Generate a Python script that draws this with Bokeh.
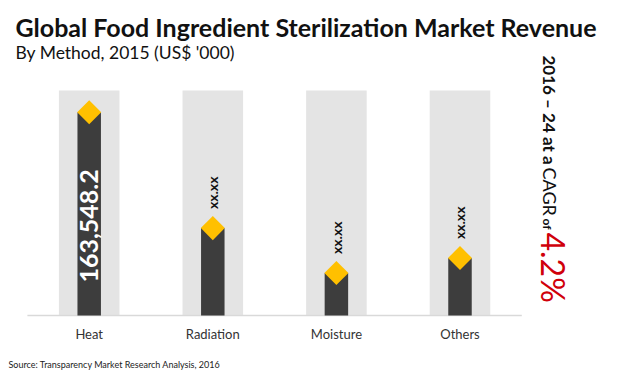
import math
from bokeh.plotting import figure
from bokeh.models import ColumnDataSource, Range1d, Label, LabelSet
from bokeh.core.properties import value
from bokeh.embed import file_html
from bokeh.resources import INLINE

# ---- data ----
categories = ["Heat", "Radiation", "Moisture", "Others"]
revenue = [163548.2, 70300, 34200, 46200]
value_labels = ["163,548.2", "xx.xx", "xx.xx", "xx.xx"]
axis_max = 181000
background = [axis_max] * len(categories)

title_text = "Global Food Ingredient Sterilization Market Revenue"
subtitle_text = "By Method, 2015 (US$ '000)"
source_text = "Source: Transparency Market Research Analysis, 2016"
cagr_parts = ["2016 \u2013 24 at a", "CAGR", "of", "4.2%"]

# ---- layout (pixels) ----
FONT = "Lato"
W, H = 620, 375
SLOT_PX = 123.6          # width of one category slot
FIRST_CENTER_PX = 88.7   # centre of first slot
BASE_PX = 315            # y of baseline
TOP_PX = 90              # y where axis_max lands

x_start = -FIRST_CENTER_PX / SLOT_PX
x_end = x_start + W / SLOT_PX
k = (BASE_PX - TOP_PX) / axis_max
y_start = -(H - BASE_PX) / k
y_end = axis_max + TOP_PX / k

p = figure(width=W, height=H, x_range=Range1d(x_start, x_end), y_range=Range1d(y_start, y_end),
           output_backend="svg", toolbar_location=None, x_axis_location=None,
           y_axis_location=None, min_border=0, outline_line_color=None,
           background_fill_color="white", border_fill_color="white")
p.xgrid.visible = False
p.ygrid.visible = False

idx = list(range(len(categories)))
src = ColumnDataSource(dict(x=idx, cat=categories, val=revenue, bg=background,
                            zero=[0] * len(categories), lab=value_labels))

p.vbar(x="x", top="bg", width=0.49, source=src, fill_color="#E4E4E4", line_color=None)
# baseline (category axis line)
p.segment(x0=[idx[0] - 0.5], y0=[0], x1=[idx[-1] + 0.5], y1=[0],
          line_color="#D9D9D9", line_width=1.5)
p.vbar(x="x", top="val", width=0.19, source=src, fill_color="#3D3D3D", line_color=None)
p.scatter(x="x", y="val", source=src, marker="square", size=17, angle=math.pi / 4,
          fill_color="#FFC000", line_color=None)

# category labels
p.add_layout(LabelSet(x="x", y="zero", text="cat", source=src, y_offset=-18,
                      text_align="center", text_baseline="middle",
                      text_font=value(FONT), text_font_size="13px", text_color="#333333"))

heat_src = ColumnDataSource(dict(x=idx[:1], y=[0], lab=value_labels[:1]))
p.add_layout(LabelSet(x="x", y="y", text="lab", source=heat_src, angle=math.pi / 2,
                      y_offset=33, text_align="left", text_baseline="middle",
                      text_font=value(FONT), text_font_style="bold", text_font_size="25px",
                      text_color="white"))
rest_src = ColumnDataSource(dict(x=idx[1:], y=revenue[1:], lab=value_labels[1:]))
p.add_layout(LabelSet(x="x", y="y", text="lab", source=rest_src, angle=math.pi / 2,
                      y_offset=19, text_align="left", text_baseline="middle",
                      text_font=value(FONT), text_font_style="bold", text_font_size="14px",
                      text_color="#111111"))

# label screen units are relative to the frame (= whole canvas), y measured from bottom
def sx(rx):
    return rx

def sy(ry):
    return H - ry

p.add_layout(Label(x=sx(15), y=sy(26.5), x_units="screen", y_units="screen", text=title_text,
                   text_font=FONT, text_font_style="bold", text_font_size="25px",
                   text_color="#111111", text_baseline="middle"))
p.add_layout(Label(x=sx(15), y=sy(51.5), x_units="screen", y_units="screen", text=subtitle_text,
                   text_font=FONT, text_font_size="17.5px", text_color="#111111",
                   text_baseline="middle"))
p.add_layout(Label(x=sx(8), y=sy(364), x_units="screen", y_units="screen", text=source_text,
                   text_font=FONT, text_font_size="9px", text_color="#222222",
                   text_baseline="middle"))

cagr_start = [55, 167, 218, 232]
cagr_center = [548.5, 549.5, 546.5, 553]
cagr_size = ["17px", "18px", "12px", "32px"]
cagr_style = ["bold", "normal", "bold", "normal"]
cagr_color = ["#111111", "#111111", "#111111", "#D0000A"]
for t, ys, xc, fs, st, c in zip(cagr_parts, cagr_start, cagr_center, cagr_size, cagr_style, cagr_color):
    p.add_layout(Label(x=sx(xc), y=sy(ys), x_units="screen", y_units="screen", text=t,
                       angle=-math.pi / 2, text_align="left", text_baseline="middle",
                       text_font=FONT, text_font_style=st, text_font_size=fs, text_color=c))

open("out.html", "w").write(file_html(p, INLINE))
